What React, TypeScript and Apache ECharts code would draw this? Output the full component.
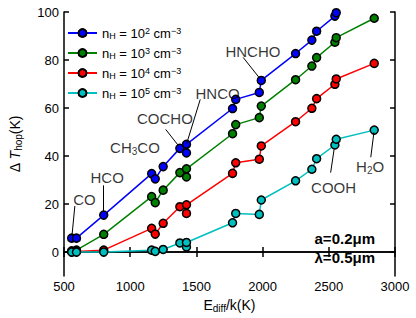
import React, { useEffect, useRef } from "react";
import * as echarts from "echarts";

const energies = [558, 594, 800, 1162, 1189, 1249, 1375, 1425, 1425, 1773, 1797, 1975, 1990, 2249, 2372, 2408, 2546, 2556, 2843];
const blueVals = [5.8, 5.8, 15.4, 32.7, 30.5, 35.6, 43.2, 41.3, 44.9, 59.8, 63.6, 66.5, 71.5, 82.7, 88.3, 92.0, 98.3, 99.7, 118];
const greenVals = [0.5, 0.8, 7.4, 23.1, 20.6, 25.8, 33.1, 31.3, 34.7, 49.3, 53.1, 56.0, 60.8, 71.8, 77.5, 81.0, 87.4, 89.3, 97.4];
const redVals = [0.1, 0.2, 0.8, 9.9, 7.5, 12.0, 18.9, 16.1, 19.7, 32.8, 37.2, 38.7, 44.2, 54.3, 59.9, 63.9, 69.9, 72.1, 78.6];
const cyanVals = [0, 0, 0, 0.8, 0.3, 1.1, 3.8, 2.1, 4.0, 12.2, 16.1, 15.7, 21.7, 29.7, 34.5, 38.9, 44.6, 47.0, 50.8];

const seriesNames = ["nH2", "nH3", "nH4", "nH5"];
const seriesExps = ["2", "3", "4", "5"];
const seriesColors = ["#0000ff", "#008000", "#ff0000", "#00bfbf"];

const yTicks = [0, 20, 40, 60, 80, 100];

// annotation: label (rich), text position, arrow start, arrow end (data coords)
const annLabels = ["{t|CO}", "{t|HCO}", "{t|CH}{s|3}{t|CO}", "{t|COCHO}", "{t|HNCO}", "{t|HNCHO}", "{t|COOH}", "{t|H}{s|2}{t|O}"];
const annText = [[655, 21.9], [826, 31.1], [1036, 43.6], [1262, 55.6], [1660, 66.1], [1927, 83.6], [2536, 27], [2812, 35.7]];
const annArrowFrom = [[582, 19.2], [797, 27.8], null, [1268, 51.1], [1529, 63.6], [1853, 81.1], [2514, 33.1], [2817, 39.5]];
const annArrowTo = [[560, 6.7], [797, 17], null, [1362, 44.5], [1427, 45.3], [1978, 72.4], [2540, 42.8], [2841, 49.9]];

const FONT = "Liberation Sans, Arial, Helvetica, sans-serif";

export default function App() {
  const ref = useRef<HTMLDivElement>(null);
  useEffect(() => {
    if (!ref.current) return;
    const chart = echarts.init(ref.current, null, { renderer: "svg" });
    const allVals = [blueVals, greenVals, redVals, cyanVals];
    const lineSeries = allVals.map((vals, i) => ({
      name: seriesNames[i],
      type: "line",
      data: energies.map((e, j) => [e, vals[j]]),
      symbol: "circle",
      symbolSize: 8,
      clip: true,
      lineStyle: { color: seriesColors[i], width: 1.5 },
      itemStyle: { color: seriesColors[i], borderColor: "#000", borderWidth: 1.5 },
    }));
    const markData: any[] = [];
    annArrowFrom.forEach((f, i) => {
      const t = annArrowTo[i];
      if (f && t) markData.push([{ coord: f }, { coord: t }]);
    });
    const annSeries = {
      type: "scatter",
      name: "ann",
      symbolSize: 0,
      silent: true,
      data: annText.map((p, i) => ({
        value: p,
        label: {
          show: true,
          position: "inside",
          formatter: annLabels[i],
          rich: {
            t: { fontSize: 15, fontFamily: FONT, color: "#000" },
            s: { fontSize: 10, fontFamily: FONT, color: "#000", padding: [8, 0, 0, 0] },
          },
        },
      })),
      markLine: {
        silent: true,
        symbol: ["none", "arrow"],
        symbolSize: [0, 7],
        lineStyle: { color: "#000", width: 1, type: "solid" },
        label: { show: false },
        data: markData,
      },
      z: 5,
    };
    const legendRich = {
      n: { fontSize: 13, fontFamily: FONT, color: "#000", lineHeight: 14 },
      sub: { fontSize: 9, fontFamily: FONT, color: "#000", lineHeight: 9, padding: [5, 0, 0, 0] },
      sup: { fontSize: 9, fontFamily: FONT, color: "#000", lineHeight: 9, padding: [0, 0, 5, 0] },
    };
    const axisLine = { show: true, lineStyle: { color: "#000", width: 1.5 } };
    const axisTick = { show: true, inside: true, length: 5, lineStyle: { color: "#000", width: 1.5 } };
    chart.setOption({
      animation: false,
      grid: { left: 51, right: 21, top: 12, bottom: 41 },
      legend: {
        data: seriesNames,
        orient: "vertical",
        left: 62,
        top: 21,
        itemWidth: 29,
        itemHeight: 10,
        itemGap: 6,
        formatter: (name: string) => {
          const i = seriesNames.indexOf(name);
          return `{n|n}{sub|H}{n| = 10}{sup|${seriesExps[i]}}{n| cm}{sup|−3}`;
        },
        textStyle: { rich: legendRich },
      },
      xAxis: [
        {
          type: "value",
          min: 500,
          max: 3000,
          interval: 500,
          position: "bottom",
          axisLine,
          axisTick,
          splitLine: { show: false },
          axisLabel: { fontSize: 13, fontFamily: FONT, color: "#000", margin: 4, formatter: (v: number) => String(v) },
          name: "{e|E}{d|diff}{e|/k(K)}",
          nameLocation: "middle",
          nameGap: 18,
          nameTextStyle: {
            rich: {
              e: { fontSize: 14, fontFamily: FONT, color: "#000" },
              d: { fontSize: 10, fontFamily: FONT, color: "#000", padding: [6, 0, 0, 0] },
            },
          },
        },
        {
          type: "value",
          min: 500,
          max: 3000,
          interval: 500,
          position: "top",
          axisLine,
          axisTick,
          splitLine: { show: false },
          axisLabel: { show: false },
        },
      ],
      yAxis: [
        {
          type: "value",
          min: -10,
          max: 100,
          position: "left",
          axisLine,
          axisTick: { ...axisTick, customValues: yTicks },
          splitLine: { show: false },
          axisLabel: { fontSize: 13, fontFamily: FONT, color: "#000", margin: 5, customValues: yTicks },
          name: "{e|Δ }{i|T}{d|hop}{e|(K)}",
          nameLocation: "middle",
          nameRotate: 90,
          nameGap: 41,
          nameTextStyle: {
            rich: {
              e: { fontSize: 14, fontFamily: FONT, color: "#000" },
              i: { fontSize: 14, fontFamily: FONT, color: "#000", fontStyle: "italic" },
              d: { fontSize: 10, fontFamily: FONT, color: "#000", padding: [6, 0, 0, 0] },
            },
          },
        },
        {
          type: "value",
          min: -10,
          max: 100,
          position: "right",
          axisLine,
          axisTick: { ...axisTick, customValues: yTicks },
          splitLine: { show: false },
          axisLabel: { show: false },
        },
      ],
      graphic: [
        {
          type: "text",
          right: 41,
          top: 229,
          style: {
            text: "a=0.2μm\nλ=0.5μm",
            font: `bold 15px ${FONT}`,
            fill: "#000",
            align: "right",
            lineHeight: 19,
          },
        },
      ],
      series: [...lineSeries, annSeries],
    });
    return () => chart.dispose();
  }, []);
  return <div ref={ref} style={{ position: "absolute", left: 0, top: 0, width: 416, height: 318 }} />;
}
